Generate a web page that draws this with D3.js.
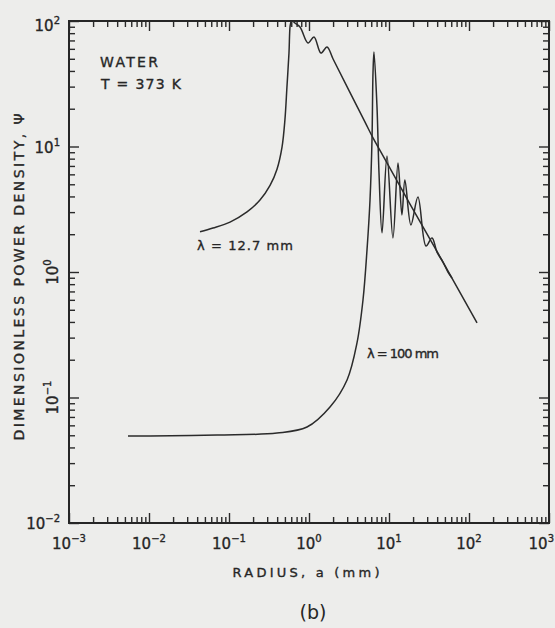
<!DOCTYPE html>
<html>
<head>
<meta charset="utf-8">
<script src="https://cdn.jsdelivr.net/npm/d3@7"></script>
<style>
  html, body { margin: 0; padding: 0; background: #ededeb; }
  svg { display: block; }
  text { font-family: "DejaVu Sans", "Liberation Sans", sans-serif; fill: #262626; }
  .lettered { stroke: #262626; stroke-width: 0.35px; }
</style>
</head>
<body>
<svg id="chart" width="555" height="628"></svg>
<script>
// Radius a (mm) and dimensionless power density Ψ for water at 373 K
const radius127 = [0.0434, 0.063, 0.103, 0.168, 0.244, 0.326, 0.398, 0.46, 0.50, 0.53, 0.562, 0.579, 0.596, 0.61, 0.631,
                   0.772, 0.972, 1.155, 1.41, 1.68, 2.0, 5.0, 6.31, 8.0, 18.3, 47.3, 126];
const psi127    = [2.09, 2.24, 2.50, 3.01, 3.75, 4.9, 6.6, 9.9, 16.3, 29.8, 55.6, 89.6, 100, 125, 100,
                   89.6, 66.8, 74.6, 55.6, 62.1, 49.8, 15.7, 11.7, 8.94, 3.48, 1.20, 0.393];

const radius100 = [0.00546, 0.0103, 0.0708, 0.398, 0.944, 1.83, 2.99, 3.98, 4.73, 5.31, 5.79, 6.13, 6.31, 6.49,
                   7.08, 7.50, 8.18, 9.44, 11.2, 12.96, 14.5, 15.8, 18.8, 23.0, 29.0, 34.5, 39.8, 47.3, 54.6, 61.3];
const psi100    = [0.0493, 0.0493, 0.0502, 0.0521, 0.0582, 0.084, 0.138, 0.272, 0.598, 1.50, 3.75, 11.3, 38.5, 56.6,
                   20.6, 6.15, 2.05, 8.4, 1.87, 7.39, 2.85, 5.41, 2.37, 3.96, 1.61, 1.87, 1.44, 1.20, 1.0, 0.896];

const xTickExps = [-3, -2, -1, 0, 1, 2, 3];
const yTickExps = [-2, -1, 0, 1, 2];

const svg = d3.select("#chart");
const plotLeft = 69, plotRight = 549, plotTop = 21, plotBottom = 523;

const x = d3.scaleLog().domain([1e-3, 1e3]).range([plotLeft, plotRight]);
const y = d3.scaleLog().domain([1e-2, 1e2]).range([plotBottom, plotTop]);

function minorValues(lo, hi) {
  const v = [];
  for (let e = lo; e < hi; e++) for (let k = 2; k <= 9; k++) v.push(k * Math.pow(10, e));
  return v;
}
const xMinor = minorValues(-3, 3), yMinor = minorValues(-2, 2);
const xMajor = xTickExps.map(e => Math.pow(10, e));
const yMajor = yTickExps.map(e => Math.pow(10, e));

function tickAxis(axisFn, scale, values, size, transform) {
  const g = svg.append("g").attr("transform", transform)
    .call(axisFn(scale).tickValues(values).tickSize(size).tickFormat(""));
  g.select(".domain").remove();
  g.selectAll(".tick line").attr("stroke", "#2a2a2a").attr("stroke-width", 1.4);
  return g;
}
// inward-pointing ticks on all four sides
tickAxis(d3.axisBottom, x, xMinor, -6, `translate(0,${plotBottom})`);
tickAxis(d3.axisBottom, x, xMajor, -10, `translate(0,${plotBottom})`);
tickAxis(d3.axisTop, x, xMinor, -6, `translate(0,${plotTop})`);
tickAxis(d3.axisTop, x, xMajor, -10, `translate(0,${plotTop})`);
tickAxis(d3.axisLeft, y, yMinor, -6, `translate(${plotLeft},0)`);
tickAxis(d3.axisLeft, y, yMajor, -10, `translate(${plotLeft},0)`);
tickAxis(d3.axisRight, y, yMinor, -6, `translate(${plotRight},0)`);
tickAxis(d3.axisRight, y, yMajor, -10, `translate(${plotRight},0)`);

// frame
svg.append("rect").attr("x", plotLeft).attr("y", plotTop)
  .attr("width", plotRight - plotLeft).attr("height", plotBottom - plotTop)
  .attr("fill", "none").attr("stroke", "#262626").attr("stroke-width", 2);

// power-of-ten labels
function powerLabel(g, exp) {
  const t = g.append("text").attr("class", "lettered").attr("font-size", 15);
  t.append("tspan").text("10");
  t.append("tspan").attr("dy", -7).attr("font-size", 10)
    .text(exp < 0 ? "\u2212" + (-exp) : String(exp));
  return t;
}
xTickExps.forEach(e => {
  const px = x(Math.pow(10, e));
  const last = e === xTickExps[xTickExps.length - 1];
  const g = svg.append("g").attr("transform", `translate(${last ? 554 : px},549)`);
  powerLabel(g, e).attr("text-anchor", last ? "end" : "middle");
});
yTickExps.forEach(e => {
  const py = y(Math.pow(10, e));
  if (e === 0 || e === -1) {
    const g = svg.append("g").attr("transform", `translate(58,${py}) rotate(-90)`);
    powerLabel(g, e).attr("text-anchor", "middle");
  } else {
    const shift = e === yTickExps[yTickExps.length - 1] ? 10 : 6;
    const g = svg.append("g").attr("transform", `translate(60,${py + shift})`);
    powerLabel(g, e).attr("text-anchor", "end");
  }
});

// axis titles
svg.append("text").attr("class", "lettered")
  .attr("transform", "translate(24,277) rotate(-90)")
  .attr("text-anchor", "middle").attr("font-size", 14)
  .attr("textLength", 327).attr("lengthAdjust", "spacing")
  .text("DIMENSIONLESS POWER DENSITY, \u03A8");
svg.append("text").attr("class", "lettered")
  .attr("x", 306).attr("y", 577).attr("text-anchor", "middle").attr("font-size", 13)
  .attr("textLength", 147).attr("lengthAdjust", "spacing")
  .text("RADIUS, a (mm)");
svg.append("text")
  .attr("x", 313).attr("y", 619).attr("text-anchor", "middle").attr("font-size", 19)
  .text("(b)");

// curves
svg.append("clipPath").attr("id", "plot-clip")
  .append("rect").attr("x", plotLeft).attr("y", plotTop)
  .attr("width", plotRight - plotLeft).attr("height", plotBottom - plotTop);

const line = d3.line().x(d => x(d[0])).y(d => y(d[1])).curve(d3.curveCatmullRom.alpha(0.5));
const curves = svg.append("g").attr("clip-path", "url(#plot-clip)");
curves.append("path").datum(d3.zip(radius127, psi127))
  .attr("d", line).attr("fill", "none").attr("stroke", "#2b2b2b").attr("stroke-width", 1.5);
curves.append("path").datum(d3.zip(radius100, psi100))
  .attr("d", line).attr("fill", "none").attr("stroke", "#2b2b2b").attr("stroke-width", 1.5);

// annotations
svg.append("text").attr("class", "lettered").attr("x", 100).attr("y", 67).attr("font-size", 14)
  .attr("textLength", 58).attr("lengthAdjust", "spacing").text("WATER");
svg.append("text").attr("class", "lettered").attr("x", 101).attr("y", 89).attr("font-size", 14)
  .attr("textLength", 80).attr("lengthAdjust", "spacing").text("T = 373 K");
svg.append("text").attr("class", "lettered").attr("x", 197).attr("y", 250).attr("font-size", 13)
  .attr("textLength", 96).attr("lengthAdjust", "spacing").text("\u03BB = 12.7 mm");
svg.append("text").attr("class", "lettered").attr("x", 367).attr("y", 358).attr("font-size", 13)
  .attr("textLength", 72).attr("lengthAdjust", "spacing").text("\u03BB = 100 mm");
</script>
</body>
</html>
